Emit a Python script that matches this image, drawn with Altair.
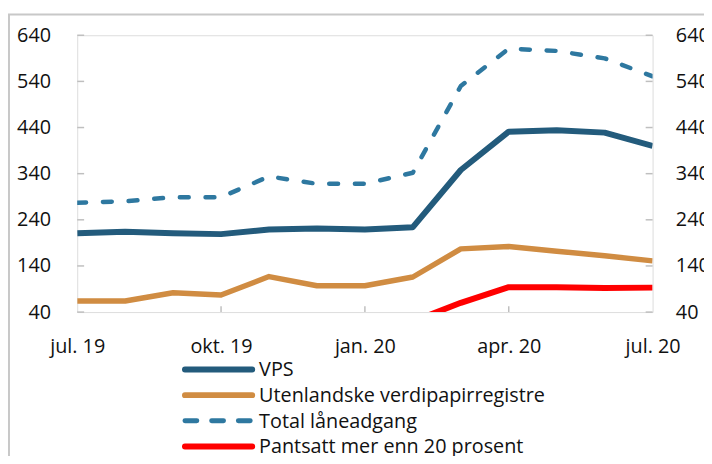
import altair as alt
import pandas as pd

MONTHS = ["jul. 19", "aug. 19", "sep. 19", "okt. 19", "nov. 19", "des. 19",
          "jan. 20", "feb. 20", "mar. 20", "apr. 20", "mai 20", "jun. 20", "jul. 20"]
VPS = [211, 214, 211, 209, 219, 221, 219, 224, 348, 431, 434, 429, 400]
UTENL = [64, 64, 82, 77, 117, 97, 97, 116, 177, 182, 172, 162, 151]
TOTAL = [277, 280, 289, 289, 334, 318, 318, 342, 530, 611, 606, 590, 551]
PANT_MONTHS = ["feb. 20", "mar. 20", "apr. 20", "mai 20", "jun. 20", "jul. 20"]
PANT = [20, 60, 94, 94, 92, 93]

X_TICKS = ["jul. 19", "okt. 19", "jan. 20", "apr. 20", "jul. 20"]
Y_TICKS = [40, 140, 240, 340, 440, 540, 640]

SERIES = ["VPS", "Utenlandske verdipapirregistre", "Total låneadgang",
          "Pantsatt mer enn 20 prosent"]
COLORS = ["#235b7c", "#d08c42", "#2e78a0", "#ff0000"]

FONT = "Open Sans"
W, H = 582, 280

df_vps = pd.DataFrame({"m": MONTHS, "v": VPS})
df_ut = pd.DataFrame({"m": MONTHS, "v": UTENL})
df_tot = pd.DataFrame({"m": MONTHS, "v": TOTAL})
df_pant = pd.DataFrame({"m": PANT_MONTHS, "v": PANT})
df_yt = pd.DataFrame({"v": Y_TICKS})
df_xt = pd.DataFrame({"m": X_TICKS[1:-1]})

yscale = alt.Scale(domain=[40, 640], nice=False, zero=False)
xscale = alt.Scale(type="point", padding=0, domain=MONTHS)

x_enc = alt.X("m:O", scale=xscale, sort=MONTHS,
              axis=alt.Axis(values=X_TICKS, labelAngle=0, title=None, domain=False,
                            ticks=False, grid=False, labelPadding=25, labelFont=FONT,
                            labelFontSize=20, labelColor="#111111",
                            labelBaseline="top"))

y_left = alt.Y("v:Q", scale=yscale,
               axis=alt.Axis(values=Y_TICKS, orient="left", title=None, domain=False,
                             ticks=False, grid=False, labelPadding=27, labelFont=FONT,
                             labelFontSize=20, labelColor="#111111"))
y_right = alt.Y("v:Q", scale=yscale,
                axis=alt.Axis(values=Y_TICKS, orient="right", title=None, domain=False,
                              ticks=False, grid=False, labelPadding=23, labelFont=FONT,
                              labelFontSize=20, labelColor="#111111", labelAlign="left"))
y_plain = alt.Y("v:Q", scale=yscale, axis=None)

# frame around whole figure
frame = alt.Chart(pd.DataFrame({"a": [0]})).mark_rect(
    fill=None, stroke="#c8c8c8", strokeWidth=2
).encode(x=alt.value(-69), x2=alt.value(720), y=alt.value(-21), y2=alt.value(520))

# inward ticks
yt_left = alt.Chart(df_yt).mark_rule(color="#bfbfbf", strokeWidth=1.5).encode(
    y=y_left, x=alt.value(0), x2=alt.value(7))
yt_right = alt.Chart(df_yt).mark_rule(color="#bfbfbf", strokeWidth=1.5).encode(
    y=y_right, x=alt.value(W - 7), x2=alt.value(W))
xt = alt.Chart(df_xt).mark_rule(color="#bfbfbf", strokeWidth=1.5).encode(
    x=x_enc, y=alt.value(H - 6), y2=alt.value(H))

l_ut = alt.Chart(df_ut).mark_line(color=COLORS[1], strokeWidth=5.5, clip=True,
                                  strokeJoin="round").encode(x=x_enc, y=y_plain)
l_tot = alt.Chart(df_tot).mark_line(color=COLORS[2], strokeWidth=4.5, clip=True,
                                    strokeDash=[9, 17], strokeCap="round",
                                    strokeJoin="round").encode(x=x_enc, y=y_plain)
l_vps = alt.Chart(df_vps).mark_line(color=COLORS[0], strokeWidth=6, clip=True,
                                    strokeJoin="round").encode(x=x_enc, y=y_plain)
l_pant = alt.Chart(df_pant).mark_line(color=COLORS[3], strokeWidth=6, clip=True,
                                      strokeJoin="round").encode(x=x_enc, y=y_plain)

# manual legend
leg_layers = []
leg_y = [338, 364, 390, 416]
for i, name in enumerate(SERIES):
    dash = [12, 15] if i == 2 else [1, 0]
    d = pd.DataFrame({"label": [name]})
    leg_layers.append(
        alt.Chart(d).mark_rule(color=COLORS[i], strokeWidth=6 if i != 2 else 5,
                               strokeCap="round", strokeDash=dash).encode(
            x=alt.value(109), x2=alt.value(177), y=alt.value(leg_y[i]))
    )
    leg_layers.append(
        alt.Chart(d).mark_text(align="left", baseline="middle", font=FONT,
                               fontSize=20, color="#111111").encode(
            text="label:N", x=alt.value(184), y=alt.value(leg_y[i] + 1))
    )

chart = alt.layer(
    frame, yt_left, yt_right, xt, l_ut, l_tot, l_vps, l_pant, *leg_layers
).resolve_axis(y="independent").properties(
    width=W, height=H,
    autosize=alt.AutoSizeParams(type="none"),
    padding={"left": 70, "top": 25, "right": 52, "bottom": 143},
).configure_view(stroke="#bfbfbf", strokeWidth=1.5).configure(background="white")

chart.save("out.html", embed_options={"renderer": "svg", "actions": False})
